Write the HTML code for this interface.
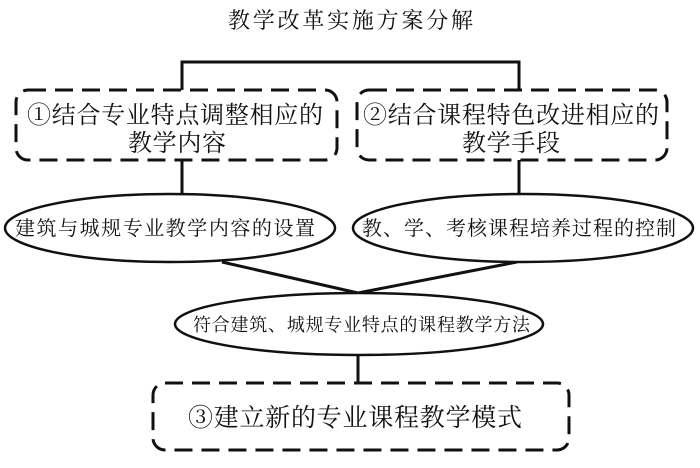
<!DOCTYPE html>
<html><head><meta charset="utf-8"><style>
body{margin:0;background:#fff}
svg text{font-family:"Liberation Serif","Noto Serif CJK SC","Noto Sans CJK SC",serif;fill:#111}
</style></head><body>
<svg width="700" height="463" viewBox="0 0 700 463" xmlns="http://www.w3.org/2000/svg">
<g stroke="#111" stroke-width="3" fill="none">
<polyline points="182,90 182,62 519,62 519,90"/>
<line x1="182" y1="160" x2="182" y2="196"/>
<line x1="519" y1="160" x2="519" y2="196"/>
<line x1="222" y1="262" x2="358" y2="293"/>
<line x1="517" y1="262" x2="358" y2="293"/>
<line x1="358" y1="355" x2="358" y2="383"/>
</g>
<g stroke="#111" stroke-width="3" fill="#fff" stroke-dasharray="18,9">
<rect x="16" y="90" width="321" height="70" rx="12"/>
<rect x="357" y="90" width="310" height="70" rx="12"/>
<rect x="153" y="383" width="416" height="67" rx="12"/>
</g>
<g stroke="#111" stroke-width="2.5" fill="#fff">
<ellipse cx="170" cy="228" rx="165" ry="34"/>
<ellipse cx="523" cy="228" rx="170" ry="34"/>
<ellipse cx="359" cy="324" rx="184" ry="31"/>
</g>
<text x="228" y="28" font-size="22" textLength="245" lengthAdjust="spacing">教学改革实施方案分解</text>
<text x="27" y="123" font-size="24" textLength="296" lengthAdjust="spacing">①结合专业特点调整相应的</text>
<text x="128" y="151" font-size="24" textLength="98" lengthAdjust="spacing">教学内容</text>
<text x="363" y="123" font-size="24" textLength="296" lengthAdjust="spacing">②结合课程特色改进相应的</text>
<text x="462" y="151" font-size="24" textLength="98" lengthAdjust="spacing">教学手段</text>
<text x="15" y="235" font-size="20" textLength="300" lengthAdjust="spacing">建筑与城规专业教学内容的设置</text>
<text x="362" y="235" font-size="20" textLength="314" lengthAdjust="spacing">教、学、考核课程培养过程的控制</text>
<text x="193" y="331" font-size="18" textLength="337" lengthAdjust="spacing">符合建筑、城规专业特点的课程教学方法</text>
<text x="188" y="426" font-size="25" textLength="334" lengthAdjust="spacing">③建立新的专业课程教学模式</text>
</svg>
</body></html>
